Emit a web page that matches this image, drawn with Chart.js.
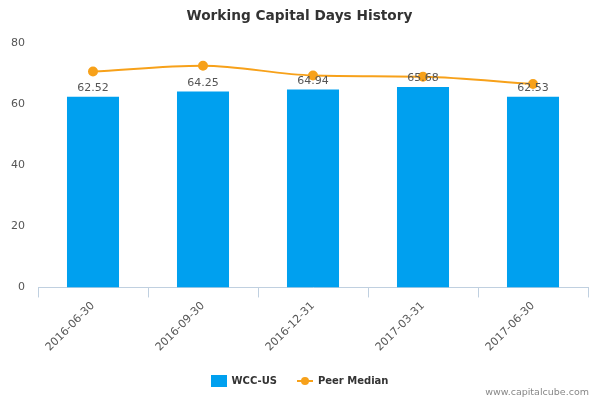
<!DOCTYPE html>
<html><head><meta charset="utf-8">
<script src="https://cdn.jsdelivr.net/npm/chart.js@4"></script>
<style>
html,body{margin:0;padding:0;background:#fff;}
#wrap{position:relative;width:600px;height:400px;}
#footer{position:absolute;right:11px;top:386px;font:9.5px "DejaVu Sans",sans-serif;color:#888;}
</style></head>
<body><div id="wrap"><canvas id="c" width="600" height="400"></canvas><div id="footer">www.capitalcube.com</div></div>
<script>
const categories = ["2016-06-30","2016-09-30","2016-12-31","2017-03-31","2017-06-30"];
const wccValues = [62.52, 64.25, 64.94, 65.68, 62.53];
const peerMedian = [70.8, 72.7, 69.5, 69.1, 66.7];
const yTicks = [0,20,40,60,80];

const FONT = "'DejaVu Sans', sans-serif";
const BLUE = '#00a0ef';
const ORANGE = '#f7a11a';

function makeBox(){const c=document.createElement('canvas');c.width=16;c.height=12;const x=c.getContext('2d');x.fillStyle=BLUE;x.fillRect(0,0,16,12);return c;}
function makeLine(){const c=document.createElement('canvas');c.width=16;c.height=10;const x=c.getContext('2d');x.strokeStyle=ORANGE;x.lineWidth=2;x.beginPath();x.moveTo(0,5);x.lineTo(16,5);x.stroke();x.fillStyle=ORANGE;x.beginPath();x.arc(8,5,4,0,Math.PI*2);x.fill();return c;}
const boxImg=makeBox(), lineImg=makeLine();

const labelPlugin={id:'lbl',afterDatasetsDraw(chart){
  const ctx=chart.ctx;const meta=chart.getDatasetMeta(1);
  ctx.save();ctx.font="11px "+FONT;ctx.fillStyle='#555';ctx.textAlign='center';ctx.textBaseline='bottom';
  meta.data.forEach((el,i)=>{ctx.fillText(wccValues[i].toFixed(2),el.x,el.y-3);});
  ctx.restore();
}};

new Chart(document.getElementById('c'),{
  data:{labels:categories,datasets:[
    {type:'line',label:'Peer Median',data:peerMedian,borderColor:ORANGE,backgroundColor:ORANGE,borderWidth:2,pointRadius:4,pointHoverRadius:4,cubicInterpolationMode:'monotone',order:0},
    {type:'bar',label:'WCC-US',data:wccValues,backgroundColor:BLUE,barPercentage:0.473,categoryPercentage:1.0,order:1}
  ]},
  options:{responsive:false,animation:false,devicePixelRatio:1,
    layout:{padding:{left:11,right:12,top:0,bottom:4}},
    plugins:{
      title:{display:true,text:'Working Capital Days History',font:{family:FONT,size:13.7,weight:'bold'},color:'#333',padding:{top:8,bottom:19}},
      legend:{position:'bottom',reverse:true,labels:{usePointStyle:true,pointStyleWidth:16,font:{family:FONT,size:10,weight:'bold'},color:'#333',padding:20,
        generateLabels(chart){return Chart.defaults.plugins.legend.labels.generateLabels(chart).map(it=>{it.pointStyle=it.datasetIndex===1?boxImg:lineImg;return it;});}}},
      tooltip:{enabled:false}
    },
    scales:{
      x:{offset:true,grid:{display:true,drawOnChartArea:false,tickLength:10,color:'#c0d0e0',offset:true},border:{color:'#c0d0e0'},
        ticks:{color:'#555',font:{family:FONT,size:11},maxRotation:45,minRotation:45,padding:2},
        afterFit(s){s.paddingLeft=0;s.paddingRight=0;}},
      y:{min:0,max:80,afterBuildTicks(s){s.ticks=yTicks.map(v=>({value:v}));},grid:{display:false,drawTicks:false},border:{display:false},
        ticks:{color:'#555',font:{family:FONT,size:11},padding:13},
        afterFit(s){s.width=27;}}
    }
  },
  plugins:[labelPlugin]
});
</script></body></html>
